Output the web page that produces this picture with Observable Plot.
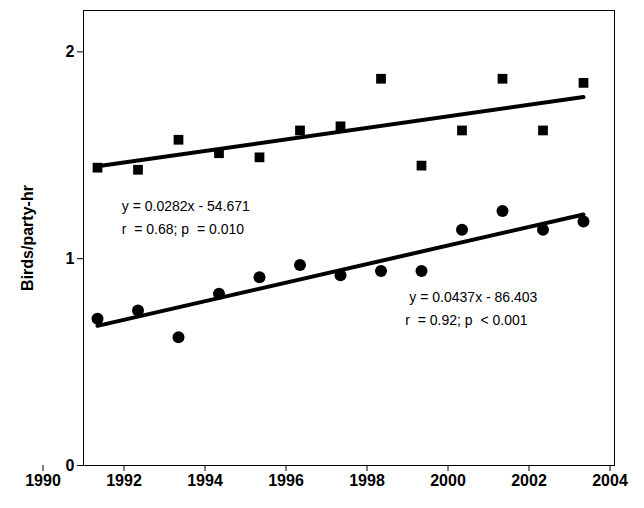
<!DOCTYPE html>
<html><head>
<script src="https://cdn.jsdelivr.net/npm/d3@7"></script>
<script src="https://cdn.jsdelivr.net/npm/@observablehq/plot@0.6"></script>
<style>body{margin:0;background:#fff;font-family:"Liberation Sans",Arial,sans-serif}</style>
</head><body><div id="chart"></div>
<script>
const years = [1991,1992,1993,1994,1995,1996,1997,1998,1999,2000,2001,2002,2003]
const squares = [1.44,1.43,1.575,1.51,1.49,1.62,1.64,1.87,1.45,1.62,1.87,1.62,1.85]
const circles = [0.71,0.75,0.62,0.83,0.91,0.97,0.92,0.94,0.94,1.14,1.23,1.14,1.18]
const tickYears = d3.range(1990, 2005, 2)
const notes = [
  {x: 1991.6, y: 1.25, t: "y = 0.0282x - 54.671"},
  {x: 1991.6, y: 1.14, t: "r  = 0.68; p  = 0.010"},
  {x: 1998.7, y: 0.81, t: "y = 0.0437x - 86.403"},
  {x: 1998.6, y: 0.70, t: "r  = 0.92; p  < 0.001"}
]
const sq = years.map((x,i) => ({x, y: squares[i]}))
const ci = years.map((x,i) => ({x, y: circles[i]}))

const chart = Plot.plot({
  width: 644, height: 508,
  marginLeft: 83, marginRight: 30, marginTop: 10, marginBottom: 43,
  style: {fontFamily: "Liberation Sans, Arial, sans-serif", fontSize: "16px", fontWeight: "bold", overflow: "visible"},
  x: {domain: [1990, 2004], range: [56.5, 623.5], label: null},
  y: {domain: [0, 2.2], ticks: [0, 1, 2], tickFormat: "d", tickSize: 6, label: "Birds/party-hr", labelAnchor: "center", labelArrow: "none", labelOffset: 62},
  marks: [
    Plot.frame({stroke: "#000"}),
    Plot.axisX(tickYears, {tickFormat: "d", tickSize: 6, dx: -14, label: null}),
    Plot.linearRegressionY(sq, {x: "x", y: "y", ci: 0, stroke: "#000", strokeWidth: 4}),
    Plot.linearRegressionY(ci, {x: "x", y: "y", ci: 0, stroke: "#000", strokeWidth: 4}),
    Plot.dot(sq, {x: "x", y: "y", symbol: "square", fill: "#000", r: 5.5}),
    Plot.dot(ci, {x: "x", y: "y", symbol: "circle", fill: "#000", r: 6}),
    Plot.text(notes, {x: "x", y: "y", text: "t", textAnchor: "start", fontSize: 14, fontWeight: "normal", fill: "#000"})
  ]
})
d3.select("#chart").append(() => chart)
</script>
</body></html>
